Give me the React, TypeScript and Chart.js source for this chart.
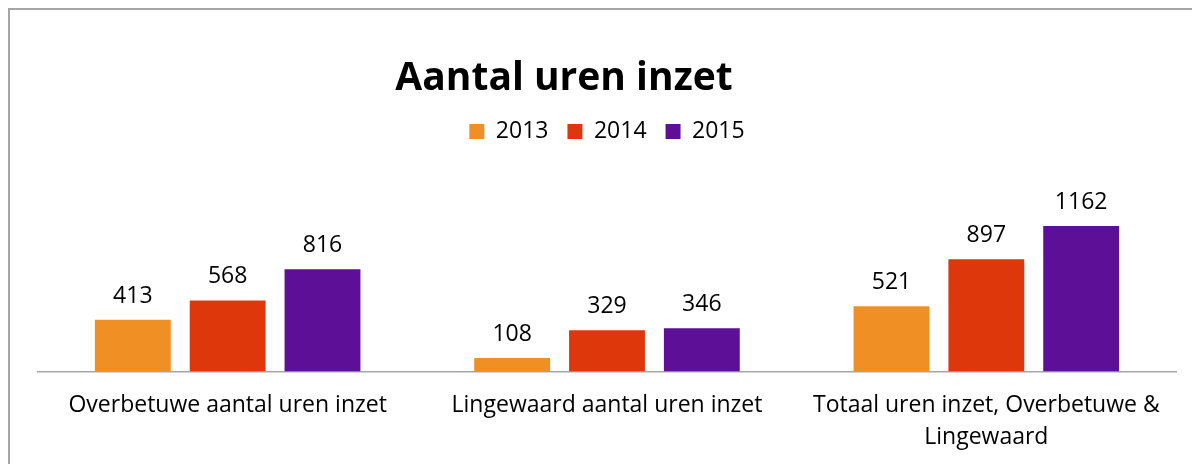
import React, { useEffect, useRef } from "react";
import { Chart, registerables } from "chart.js";

Chart.register(...registerables);

const categories: (string | string[])[] = [
  "Overbetuwe aantal uren inzet",
  "Lingewaard aantal uren inzet",
  ["Totaal uren inzet, Overbetuwe &", "Lingewaard"],
];
const seriesNames = ["2013", "2014", "2015"];
const values2013 = [413, 108, 521];
const values2014 = [568, 329, 897];
const values2015 = [816, 346, 1162];
const seriesColors = ["#F08F24", "#DD370B", "#5E0F97"];
const titleText = "Aantal uren inzet";

const FONT = "'Open Sans', 'Noto Sans', sans-serif";

const titlePlugin = {
  id: "customTitle",
  afterDraw(chart: any) {
    const ctx = chart.ctx;
    ctx.save();
    ctx.font = `bold 39px ${FONT}`;
    ctx.fillStyle = "#000";
    ctx.textAlign = "center";
    ctx.textBaseline = "alphabetic";
    ctx.fillText(titleText, 554, 80);
    ctx.restore();
  },
};

const valueLabels = {
  id: "valueLabels",
  afterDatasetsDraw(chart: any) {
    const ctx = chart.ctx;
    ctx.save();
    ctx.font = `23px ${FONT}`;
    ctx.fillStyle = "#000";
    ctx.textAlign = "center";
    ctx.textBaseline = "alphabetic";
    chart.data.datasets.forEach((ds: any, i: number) => {
      const meta = chart.getDatasetMeta(i);
      meta.data.forEach((bar: any, j: number) => {
        ctx.fillText(String(ds.data[j]), bar.x, bar.y - 17);
      });
    });
    ctx.restore();
  },
};

export default function App() {
  const ref = useRef<HTMLCanvasElement>(null);
  useEffect(() => {
    if (!ref.current) return;
    const seriesValues = [values2013, values2014, values2015];
    const chart = new Chart(ref.current, {
      type: "bar",
      data: {
        labels: categories,
        datasets: seriesNames.map((name, i) => ({
          label: name,
          data: seriesValues[i],
          backgroundColor: seriesColors[i],
          borderWidth: 0,
          categoryPercentage: 0.75,
          barPercentage: 0.8,
        })),
      },
      options: {
        animation: false,
        responsive: true,
        maintainAspectRatio: false,
        layout: { padding: { top: 91, left: 28, right: 24, bottom: 0 } },
        plugins: {
          title: { display: false },
          tooltip: { enabled: false },
          legend: {
            display: true,
            position: "top",
            labels: {
              boxWidth: 15,
              boxHeight: 15,
              padding: 19,
              color: "#000",
              font: { family: FONT, size: 23 },
            },
          },
        },
        scales: {
          x: {
            grid: { display: false },
            border: { display: true, color: "#a6a6a6", width: 1.5 },
            ticks: {
              color: "#000",
              padding: 10,
              maxRotation: 0,
              autoSkip: false,
              font: { family: FONT, size: 23, lineHeight: 1.4 },
            },
          },
          y: {
            display: false,
            min: 0,
            max: 1744,
          },
        },
      },
      plugins: [titlePlugin, valueLabels],
    });
    return () => chart.destroy();
  }, []);
  return (
    <div
      style={{
        width: 1192,
        height: 456,
        boxSizing: "border-box",
        borderTop: "2px solid #a6a6a6",
        borderLeft: "2px solid #a6a6a6",
        position: "relative",
      }}
    >
      <canvas ref={ref} />
    </div>
  );
}
